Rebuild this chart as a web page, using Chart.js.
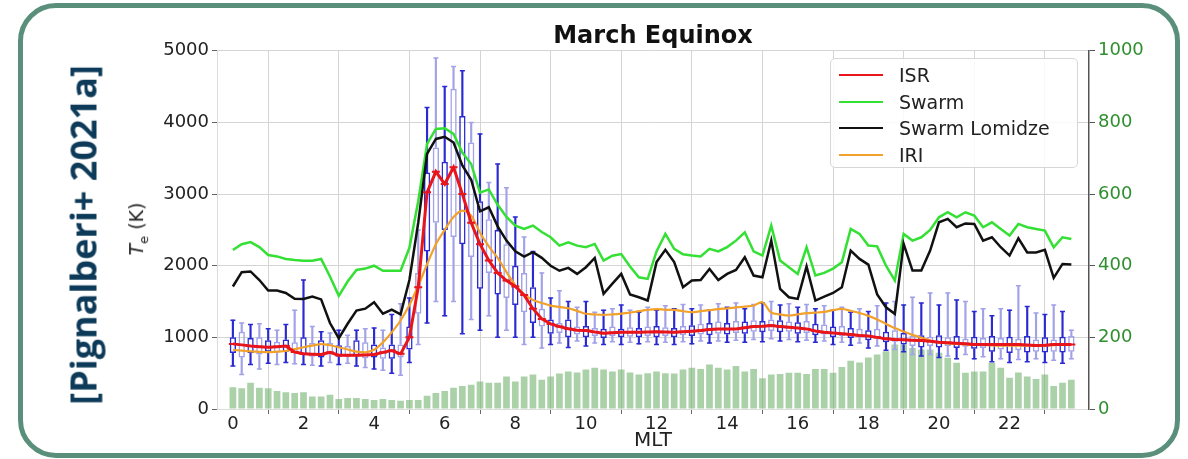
<!DOCTYPE html>
<html>
<head>
<meta charset="utf-8">
<script src="https://cdn.jsdelivr.net/npm/chart.js@4.4.1/dist/chart.umd.min.js"></script>
<style>
  html, body { margin: 0; padding: 0; background: #fff; }
  body { width: 1188px; height: 459px; position: relative; overflow: hidden; font-family: 'DejaVu Sans', sans-serif; }
  #frame { position: absolute; left: 18px; top: 3px; width: 1152px; height: 445px; border: 5px solid #5a907b; border-radius: 38px; }
  #cite { position: absolute; left: 83px; top: 235px; transform: translate(-50%, -50%) rotate(-90deg); white-space: nowrap;
          font-family: 'Open Sans', 'Noto Sans', sans-serif; font-weight: 700; font-size: 36px; color: #0c3a58; }
  #ylab { position: absolute; left: 138px; top: 229px; transform: translate(-50%, -50%) rotate(-90deg); white-space: nowrap;
          font-family: 'DejaVu Sans', sans-serif; font-size: 19px; color: #222; }
  #ylab sub { font-size: 13px; }
  #chart { position: absolute; left: 0; top: 0; }
  #legend { position: absolute; left: 830px; top: 58px; width: 246px; height: 108px; border: 1px solid #d6d6d6; border-radius: 5px;
            background: rgba(255,255,255,0.85); font-family: 'DejaVu Sans', sans-serif; font-size: 19px; color: #222; }
  .li { position: absolute; left: 8px; height: 26px; line-height: 26px; }
  .li span.sw { position: absolute; left: 0; top: 12px; width: 44px; height: 2.2px; }
  .li span.tx { position: absolute; left: 60px; top: 0; white-space: nowrap; }
</style>
</head>
<body>
<div id="frame"></div>
<canvas id="chart" width="1188" height="459"></canvas>
<div id="cite">[Pignalberi+ 2021a]</div>
<div id="ylab"><i>T</i><sub>e</sub> (K)</div>
<div id="legend"></div>
<script>
// ---- data ----
const mlt = [0,0.25,0.5,0.75,1,1.25,1.5,1.75,2,2.25,2.5,2.75,3,3.25,3.5,3.75,4,4.25,4.5,4.75,
  5,5.25,5.5,5.75,6,6.25,6.5,6.75,7,7.25,7.5,7.75,8,8.25,8.5,8.75,9,9.25,9.5,9.75,
  10,10.25,10.5,10.75,11,11.25,11.5,11.75,12,12.25,12.5,12.75,13,13.25,13.5,13.75,14,14.25,14.5,14.75,
  15,15.25,15.5,15.75,16,16.25,16.5,16.75,17,17.25,17.5,17.75,18,18.25,18.5,18.75,19,19.25,19.5,19.75,
  20,20.25,20.5,20.75,21,21.25,21.5,21.75,22,22.25,22.5,22.75,23,23.25,23.5,23.75];

const isr = [909,895,880,870,862,870,880,795,770,765,760,790,750,750,750,755,760,790,815,770,
  1000,1700,3025,3313,3140,3373,3000,2600,2300,2072,1900,1793,1710,1590,1400,1258,1188,1150,1120,1100,
  1095,1075,1058,1065,1072,1072,1072,1075,1080,1075,1072,1078,1086,1095,1110,1118,1118,1118,1135,1150,
  1155,1165,1150,1141,1130,1118,1090,1072,1060,1049,1040,1025,1020,1000,979,970,965,960,956,945,
  932,925,918,910,900,900,900,900,900,900,895,885,890,900,900,900];

const swarm = [2220,2300,2330,2260,2150,2130,2095,2080,2070,2070,2095,1850,1580,1780,1940,1960,2000,1930,1930,1930,
  2250,2900,3700,3910,3920,3840,3580,3420,3020,3065,2850,2680,2560,2513,2560,2470,2397,2280,2327,2280,
  2258,2304,2072,2140,2163,1990,1839,1816,2200,2444,2235,2160,2142,2128,2235,2200,2260,2350,2467,2200,
  2142,2560,2072,1979,1886,2258,1863,1900,1960,2050,2513,2444,2281,2270,2000,1793,2444,2351,2397,2500,
  2676,2746,2676,2746,2700,2537,2606,2513,2421,2583,2537,2513,2490,2258,2397,2374];

const lomidze = [1710,1910,1920,1800,1653,1653,1620,1540,1537,1570,1530,1200,988,1190,1374,1400,1490,1330,1386,1320,
  1800,2600,3560,3770,3800,3720,3400,3200,2760,2816,2550,2350,2200,2128,2190,2110,2000,1930,1970,1886,
  1979,2109,1607,1750,1886,1600,1560,1514,2050,2221,2050,1700,1793,1800,1955,1800,1886,1940,2118,1863,
  1840,2351,1677,1560,1537,1990,1514,1570,1620,1700,2212,2095,2016,1600,1420,1328,2304,1932,1932,2212,
  2606,2653,2537,2590,2583,2351,2397,2258,2142,2383,2186,2186,2221,1830,2025,2016];

const iri = [826,815,805,797,793,800,810,835,862,885,905,890,862,830,800,790,826,930,1070,1235,
  1450,1720,2020,2300,2500,2680,2770,2700,2460,2270,2110,1910,1730,1600,1520,1480,1444,1425,1407,1370,
  1330,1320,1314,1320,1330,1345,1365,1384,1395,1385,1384,1365,1351,1365,1380,1395,1405,1418,1430,1444,
  1490,1345,1320,1305,1320,1337,1345,1355,1380,1398,1370,1340,1300,1250,1188,1130,1081,1035,995,955,
  930,915,908,902,898,893,888,885,885,885,885,885,888,892,896,900];

const counts = [61,58,73,59,58,50,47,45,47,35,35,40,28,31,31,28,25,28,25,23,
  25,25,37,45,50,59,64,68,77,73,73,91,77,91,96,82,91,99,105,102,
  110,115,110,105,110,102,96,100,105,100,99,110,115,112,124,115,110,120,105,112,
  86,96,98,101,101,98,112,112,101,117,135,130,144,152,161,180,180,170,166,166,
  157,143,129,101,105,105,129,115,87,102,91,84,96,64,73,82];

const whLo = [600,480,620,560,640,620,650,630,620,610,600,650,620,640,600,580,560,540,500,470,
  650,900,1200,1500,1300,1500,1050,1250,1100,1300,1000,1100,1000,900,1000,850,900,920,860,950,
  880,920,900,940,900,930,910,940,900,930,900,940,910,950,920,950,930,960,930,970,
  940,980,950,970,940,960,930,950,900,930,890,920,850,880,820,830,800,760,740,760,
  720,740,700,760,700,730,660,700,650,690,660,700,650,680,640,700];
const q1 = [780,720,780,760,800,790,800,780,760,730,720,760,730,730,740,710,720,700,700,720,
  830,1330,2200,2600,2500,2400,2300,2120,1680,1900,1600,1550,1450,1350,1200,1150,1050,1060,1000,1040,
  1000,1020,990,1020,1000,1010,1000,1020,1000,1020,1000,1030,1020,1040,1030,1050,1040,1060,1050,1080,
  1070,1090,1070,1080,1050,1060,1030,1040,1000,1020,990,1000,960,980,930,940,900,880,860,880,
  860,880,850,870,840,850,800,830,780,820,790,800,790,800,790,800];
const q3 = [1000,1080,990,1000,960,940,970,930,1000,920,960,920,890,880,960,930,900,860,900,900,
  1150,1900,3300,3650,3450,4470,4090,3720,2900,2650,2500,2300,2000,1900,1700,1400,1250,1200,1250,1150,
  1160,1130,1120,1150,1120,1140,1130,1150,1160,1140,1130,1160,1170,1190,1200,1220,1200,1230,1220,1240,
  1230,1250,1240,1220,1210,1230,1190,1180,1150,1160,1130,1120,1100,1120,1080,1100,1060,1020,1030,1010,
  1030,1000,1020,980,1010,990,1020,990,1010,980,1020,970,1000,970,1010,1020];
const whHi = [1240,1200,1180,1190,1120,1100,1180,1380,1800,1150,1080,1060,1100,1030,1100,1120,1130,1100,1320,1470,
  1550,2500,4210,4900,4500,4780,4720,4000,3840,3160,3420,3090,2680,2400,2200,1900,1550,1650,1500,1420,
  1500,1350,1380,1400,1450,1380,1350,1420,1380,1440,1400,1460,1400,1450,1380,1470,1420,1480,1400,1460,
  1480,1500,1450,1470,1420,1460,1400,1440,1380,1420,1350,1400,1360,1440,1480,1500,1450,1560,1480,1620,
  1450,1620,1520,1500,1360,1400,1300,1400,1380,1720,1430,1340,1320,1450,1360,1100];

const xTickVals = [0,2,4,6,8,10,12,14,16,18,20,22];
const seriesNames = ['ISR','Swarm','Swarm Lomidze','IRI'];
const seriesColors = ['#e8151b','#33e033','#111111','#f2a12a'];

// ---- build ----
const pts = arr => mlt.map((x, i) => ({x: x, y: arr[i]}));
const rng = (a, b) => mlt.map((x, i) => ({x: x, y: [a[i], b[i]]}));
const boxCol = ctx => (ctx.dataIndex % 2 === 0 ? '#2a2ad2' : '#a2a2e8');
const plain = v => String(v);

const datasets = [
  { type: 'line', label: seriesNames[0], data: pts(isr), borderColor: seriesColors[0], backgroundColor: seriesColors[0],
    borderWidth: 3, pointStyle: 'line', pointRadius: 4, pointBorderWidth: 2, pointBorderColor: seriesColors[0], tension: 0, order: 0, yAxisID: 'y' },
  { type: 'line', label: seriesNames[3], data: pts(iri), borderColor: seriesColors[3], borderWidth: 2.2, pointRadius: 0, tension: 0.3, order: 1, yAxisID: 'y' },
  { type: 'line', label: seriesNames[2], data: pts(lomidze), borderColor: seriesColors[2], borderWidth: 2.5, pointRadius: 0, tension: 0, order: 2, yAxisID: 'y' },
  { type: 'line', label: seriesNames[1], data: pts(swarm), borderColor: seriesColors[1], borderWidth: 2.5, pointRadius: 0, tension: 0, order: 3, yAxisID: 'y' },
  { type: 'line', label: 'capHi', data: pts(whHi), showLine: false, pointStyle: 'line', pointRadius: 2.5, pointBorderWidth: 1.5,
    pointBorderColor: boxCol, order: 4, yAxisID: 'y' },
  { type: 'line', label: 'capLo', data: pts(whLo), showLine: false, pointStyle: 'line', pointRadius: 2.5, pointBorderWidth: 1.5,
    pointBorderColor: boxCol, order: 4, yAxisID: 'y' },
  { type: 'bar', label: 'box', data: rng(q1, q3), grouped: false, backgroundColor: 'rgba(255,255,255,0)', borderColor: boxCol,
    borderWidth: 1.5, borderSkipped: false, barPercentage: 0.72, categoryPercentage: 1, order: 5, yAxisID: 'y' },
  { type: 'bar', label: 'whiskerLo', data: rng(whLo, q1), grouped: false, backgroundColor: boxCol, borderWidth: 0,
    barThickness: 1.5, order: 6, yAxisID: 'y' },
  { type: 'bar', label: 'whiskerHi', data: rng(q3, whHi), grouped: false, backgroundColor: boxCol, borderWidth: 0,
    barThickness: 1.5, order: 6, yAxisID: 'y' },
  { type: 'bar', label: 'counts', data: pts(counts), grouped: false, backgroundColor: 'rgba(110,175,105,0.58)', borderWidth: 0,
    barPercentage: 0.76, categoryPercentage: 1, order: 10, yAxisID: 'y2' }
];

// HTML legend
const lg = document.getElementById('legend');
seriesNames.forEach((n, i) => {
  const d = document.createElement('div');
  d.className = 'li';
  d.style.top = (3 + i * 26.5) + 'px';
  d.innerHTML = '<span class="sw" style="background:' + seriesColors[i] + '"></span><span class="tx">' + n + '</span>';
  lg.appendChild(d);
});

const gridCol = '#d4d4d4';
new Chart(document.getElementById('chart'), {
  type: 'bar',
  data: { datasets: datasets },
  options: {
    responsive: false,
    animation: false,
    events: [],
    layout: { padding: 0 },
    plugins: {
      legend: { display: false },
      tooltip: { enabled: false },
      title: { display: true, text: 'March Equinox', fullSize: false, color: '#111',
               font: { family: 'DejaVu Sans', size: 24, weight: 'bold' }, padding: { top: 22, bottom: 0 } }
    },
    scales: {
      x: {
        type: 'linear', min: -0.45, max: 24.25, offset: false,
        afterBuildTicks: s => { s.ticks = xTickVals.map(v => ({ value: v })); },
        afterFit: s => { s.height = 50; },
        ticks: { color: '#222', font: { family: 'DejaVu Sans', size: 18 }, padding: 0, maxRotation: 0, autoSkip: false, callback: plain },
        grid: { color: gridCol, tickColor: '#666', tickLength: 5, lineWidth: 1 },
        border: { color: '#dddddd' },
        title: { display: true, text: 'MLT', color: '#222', font: { family: 'DejaVu Sans', size: 20 }, padding: { top: 0, bottom: 6 } }
      },
      y: {
        position: 'left', min: 0, max: 5000,
        afterFit: s => { s.width = 217; },
        ticks: { stepSize: 1000, color: '#222', font: { family: 'DejaVu Sans', size: 18 }, padding: 3, callback: plain },
        grid: { color: gridCol, tickColor: '#666', tickLength: 5, lineWidth: 1 },
        border: { color: '#dddddd' }
      },
      y2: {
        position: 'right', min: 0, max: 1000,
        afterFit: s => { s.width = 99; },
        ticks: { stepSize: 200, color: '#2f8f2f', font: { family: 'DejaVu Sans', size: 18 }, padding: 3, callback: plain },
        grid: { drawOnChartArea: false, tickColor: '#555', tickLength: 6 },
        border: { color: '#555', width: 1.5 }
      }
    }
  }
});
</script>
</body>
</html>
